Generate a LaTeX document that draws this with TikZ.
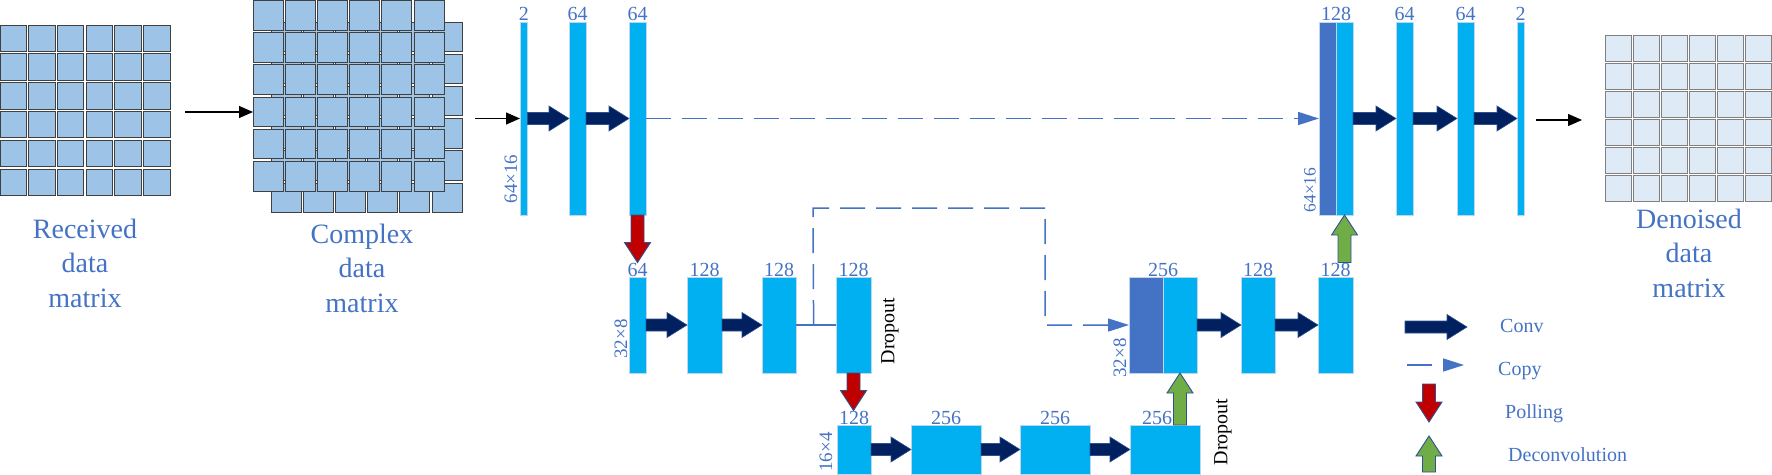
\documentclass[tikz,border=0pt]{standalone}
\usepackage{fontspec}
\setmainfont{Liberation Serif}
\usetikzlibrary{arrows.meta,calc}
\definecolor{blkc}{HTML}{00B0F0}
\definecolor{blkedge}{HTML}{BDD7EE}
\definecolor{catc}{HTML}{4472C4}
\definecolor{convc}{HTML}{002060}
\definecolor{redc}{HTML}{C00000}
\definecolor{greenc}{HTML}{70AD47}
\definecolor{outl}{HTML}{2F528F}
\definecolor{txtb}{HTML}{4472C4}
\definecolor{cellf}{HTML}{9DC3E6}
\definecolor{celld}{HTML}{404040}
\definecolor{lcellf}{HTML}{DEEBF7}
\definecolor{lcelld}{HTML}{808080}
\tikzset{
 blk/.style={draw=blkedge, line width=0.7pt, fill=blkc, inner sep=0pt, outer sep=0pt, anchor=north west},
 cat/.style={blk, fill=catc},
 lab/.style={text=txtb, font=\fontsize{20}{22}\selectfont, inner sep=0pt, anchor=base},
 dimlab/.style={text=txtb, font=\fontsize{19}{21}\selectfont, inner sep=0pt, rotate=90},
 dimlabs/.style={dimlab, font=\fontsize{17.5}{19}\selectfont},
 convarrow/.style={fill=convc, draw=outl, line width=0.6pt},
 poolarrow/.style={fill=redc, draw=outl, line width=0.9pt},
 deconvarrow/.style={fill=greenc, draw=outl, line width=0.9pt},
 copyline/.style={draw=catc, line width=1.5pt, dash pattern=on 25pt off 11pt, -{Triangle[length=21pt,width=13pt]}},
 blackarrow/.style={draw=black, line width=1.3pt, -{Triangle[length=14pt,width=12pt]}},
 bigtext/.style={text=txtb, font=\fontsize{28}{34.5}\selectfont, align=center, inner sep=0pt},
 legtext/.style={text=txtb, font=\fontsize{20}{22}\selectfont, inner sep=0pt, anchor=base west},
 droptext/.style={font=\fontsize{20}{22}\selectfont, inner sep=0pt, rotate=90},
 cell/.style={fill=cellf, draw=celld, line width=0.9pt},
 lcell/.style={fill=lcellf, draw=lcelld, line width=0.9pt},
}
\newcommand\myconvarr[2]{\filldraw[convarrow] let \p1=#1, \p2=#2 in
  (\x1,\y2+6pt) -- (\x2-20pt,\y2+6pt) -- (\x2-20pt,\y2+12.5pt) -- (\x2,\y2)
  -- (\x2-20pt,\y2-12.5pt) -- (\x2-20pt,\y2-6pt) -- (\x1,\y2-6pt) -- cycle;}
\newcommand\mydownarr[3]{\filldraw[#1] let \p1=#2, \p2=#3 in
  (\x1-6.5pt,\y1) -- (\x1-6.5pt,\y2+20pt) -- (\x1-13pt,\y2+20pt) -- (\x1,\y2)
  -- (\x1+13pt,\y2+20pt) -- (\x1+6.5pt,\y2+20pt) -- (\x1+6.5pt,\y1) -- cycle;}
\newcommand\myuparr[3]{\filldraw[#1] let \p1=#2, \p2=#3 in
  (\x2-6.5pt,\y1) -- (\x2-6.5pt,\y2-20pt) -- (\x2-13pt,\y2-20pt) -- (\x2,\y2)
  -- (\x2+13pt,\y2-20pt) -- (\x2+6.5pt,\y2-20pt) -- (\x2+6.5pt,\y1) -- cycle;}
\begin{document}
\begin{tikzpicture}[x=1pt,y=-1pt]
\useasboundingbox (0,0) rectangle (1772,474);
% ---------- matrices ----------
\foreach \i in {0,...,5}{\foreach \j in {0,...,5}{
  \filldraw[cell] (\i*28.7, 25+\j*28.8) rectangle ++(26.5,26.5);
  \filldraw[cell] (271+\i*32.2, 22+\j*32.2) rectangle ++(30,29.5);
}}
\foreach \i in {0,...,5}{\foreach \j in {0,...,5}{
  \filldraw[cell] (253+\i*32.2, 0.5+\j*32.2) rectangle ++(30,29.5);
  \filldraw[lcell] (1605+\i*28, 35+\j*28) rectangle ++(26,26);
}}
\node[bigtext] (recvt) at (85,263) {Received\\data\\matrix};
\node[bigtext] (cplxt) at (362,268) {Complex\\data\\matrix};
\node[bigtext] (dent) at (1689,253) {Denoised\\data\\matrix};
% ---------- blocks ----------
\node[blk, minimum width=7.5pt, minimum height=193pt] (t1) at (520,22) {};
\node[blk, minimum width=17pt, minimum height=193pt] (t2) at (569,22) {};
\node[blk, minimum width=17pt, minimum height=193pt] (t3) at (629,22) {};
\node[cat, minimum width=17pt, minimum height=193pt] (tc1) at (1319,22) {};
\node[blk, minimum width=17pt, minimum height=193pt] (tc2) at (1336,22) {};
\node[blk, minimum width=17pt, minimum height=193pt] (t4) at (1396,22) {};
\node[blk, minimum width=17pt, minimum height=193pt] (t5) at (1457,22) {};
\node[blk, minimum width=7pt, minimum height=193pt] (t6) at (1517,22) {};
\node[blk, minimum width=17pt, minimum height=96pt] (m1) at (629,277) {};
\node[blk, minimum width=35pt, minimum height=96pt] (m2) at (687,277) {};
\node[blk, minimum width=34pt, minimum height=96pt] (m3) at (762,277) {};
\node[blk, minimum width=35pt, minimum height=96pt] (m4) at (836,277) {};
\node[cat, minimum width=34pt, minimum height=96pt] (mc1) at (1129,277) {};
\node[blk, minimum width=34pt, minimum height=96pt] (mc2) at (1163,277) {};
\node[blk, minimum width=34pt, minimum height=96pt] (m5) at (1241,277) {};
\node[blk, minimum width=35pt, minimum height=96pt] (m6) at (1318,277) {};
\node[blk, minimum width=34pt, minimum height=49pt] (b1) at (837,425) {};
\node[blk, minimum width=70pt, minimum height=49pt] (b2) at (911,425) {};
\node[blk, minimum width=70pt, minimum height=49pt] (b3) at (1020,425) {};
\node[blk, minimum width=70pt, minimum height=49pt] (b4) at (1130,425) {};
% ---------- labels ----------
\node[lab] (t1l) at ([yshift=2pt]t1.north) {2};
\node[lab] (t2l) at ([yshift=2pt]t2.north) {64};
\node[lab] (t3l) at ([yshift=2pt]t3.north) {64};
\node[lab] (tcl) at ([yshift=2pt]tc1.north east) {128};
\node[lab] (t4l) at ([yshift=2pt]t4.north) {64};
\node[lab] (t5l) at ([yshift=2pt]t5.north) {64};
\node[lab] (t6l) at ([yshift=2pt]t6.north) {2};
\node[lab] (m1l) at ([yshift=1pt]m1.north) {64};
\node[lab] (m2l) at ([yshift=1pt]m2.north) {128};
\node[lab] (m3l) at ([yshift=1pt]m3.north) {128};
\node[lab] (m4l) at ([yshift=1pt]m4.north) {128};
\node[lab] (mcl) at ([yshift=1pt]mc1.north east) {256};
\node[lab] (m5l) at ([yshift=1pt]m5.north) {128};
\node[lab] (m6l) at ([yshift=1pt]m6.north) {128};
\node[lab] (b1l) at ([yshift=1pt]b1.north) {128};
\node[lab] (b2l) at ([yshift=1pt]b2.north) {256};
\node[lab] (b3l) at ([yshift=1pt]b3.north) {256};
\node[lab] (b4l) at ([xshift=-8pt,yshift=1pt]b4.north) {256};
\node[dimlab] (d1) at (511,179) {64×16};
\node[dimlabs] (d2) at (1310,190) {64×16};
\node[dimlab] (d3) at (621,339) {32×8};
\node[dimlab] (d4) at (1120,358) {32×8};
\node[dimlab] (d5) at (826,452) {16×4};
\node[droptext] (dr1) at (890,331) {Dropout};
\node[droptext] (dr2) at (1223,432) {Dropout};
% ---------- copy connections ----------
\draw[copyline] (t3.east) -- (tc1.west);
\draw[catc, line width=1.2pt] (m3.east) -- (m4.west);
\coordinate (jn) at ($(m3.east)!0.44!(m4.west)$);
\coordinate (dc1) at (813,208);
\coordinate (dc2) at (1045,208);
\draw[copyline] (jn) -- (dc1) -- (dc2) -- (dc2 |- mc1.west) -- (mc1.west);
% ---------- conv arrows ----------
\myconvarr{(t1.east)}{(t2.west)}
\myconvarr{(t2.east)}{(t3.west)}
\myconvarr{(tc2.east)}{(t4.west)}
\myconvarr{(t4.east)}{(t5.west)}
\myconvarr{(t5.east)}{(t6.west)}
\myconvarr{(m1.east)}{(m2.west)}
\myconvarr{(m2.east)}{(m3.west)}
\myconvarr{(mc2.east)}{(m5.west)}
\myconvarr{(m5.east)}{(m6.west)}
\myconvarr{(b1.east)}{(b2.west)}
\myconvarr{(b2.east)}{(b3.west)}
\myconvarr{(b3.east)}{(b4.west)}
% ---------- pooling / deconvolution ----------
\mydownarr{poolarrow}{(t3.south)}{(m1l.north)}
\mydownarr{poolarrow}{(m4.south)}{(b1l.north)}
\myuparr{deconvarrow}{(b4.north)}{(mc2.south)}
\myuparr{deconvarrow}{(m6l.north)}{(tc2.south)}
% ---------- black arrows ----------
\coordinate (a1s) at (185,112);
\coordinate (a1e) at (253,112);
\coordinate (a2s) at (475,118.5);
\coordinate (a3s) at (1536,120);
\coordinate (a3e) at (1582,120);
\draw[blackarrow] (a1s) -- (a1e);
\draw[blackarrow] (a2s) -- (t1.west);
\draw[blackarrow] (a3s) -- (a3e);
% ---------- legend ----------
\coordinate (lc1) at (1405,327);
\coordinate (lc2) at (1467,327);
\coordinate (lp1) at (1407,365);
\coordinate (lp2) at (1464,365);
\coordinate (lr1) at (1429,384);
\coordinate (lr2) at (1429,422);
\coordinate (lg1) at (1429,472);
\coordinate (lg2) at (1429,436);
\myconvarr{(lc1)}{(lc2)}
\draw[copyline] (lp1) -- (lp2);
\mydownarr{poolarrow}{(lr1)}{(lr2)}
\myuparr{deconvarrow}{(lg1)}{(lg2)}
\node[legtext] (lt1) at (1500,332) {Conv};
\node[legtext] (lt2) at (1498,375) {Copy};
\node[legtext] (lt3) at (1505,418) {Polling};
\node[legtext] (lt4) at (1508,461) {Deconvolution};
\end{tikzpicture}
\end{document}
